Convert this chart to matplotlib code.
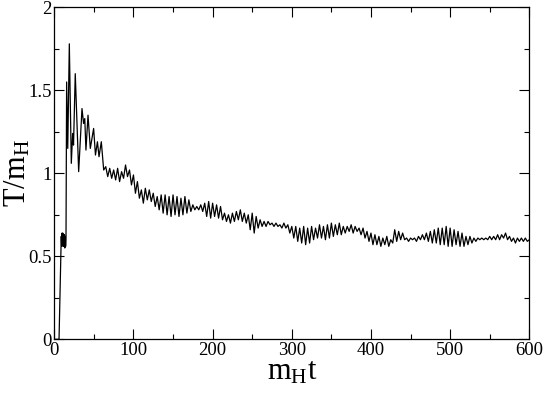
import numpy as np
import matplotlib
matplotlib.use("Agg")
import matplotlib.pyplot as plt
from matplotlib.ticker import MultipleLocator

plt.rcParams['font.family'] = ['Liberation Serif', 'DejaVu Serif']
plt.rcParams['mathtext.fontset'] = 'custom'
plt.rcParams['mathtext.rm'] = 'Liberation Serif'
plt.rcParams['mathtext.it'] = 'Liberation Serif'

# early, irregular part of the curve (time, T/m_H)
t_early = [0, 6.0, 8.8, 9.3, 9.8, 10.3, 10.8, 11.3, 11.8, 12.3, 12.8, 13.3, 13.8,
           14.3, 14.8, 15.6, 17.0, 19.0, 21.5, 23.2, 24.3, 26.5, 30.8, 35.0, 37.0,
           38.5, 40.0, 42.6, 45.5, 49.7, 52.0, 54.5, 56.5, 59.4, 62.4]
v_early = [0.0, 0.0, 0.62, 0.56, 0.64, 0.57, 0.64, 0.56, 0.63, 0.56, 0.63, 0.55, 0.62,
           0.56, 0.60, 1.55, 1.15, 1.78, 1.06, 1.24, 1.17, 1.60, 1.01, 1.39, 1.30,
           1.33, 1.14, 1.35, 1.15, 1.27, 1.11, 1.19, 1.10, 1.19, 1.02]

# later part: samples every 2.5 time units starting at t = 65
t_late_start = 65.0
t_late_step = 2.5
v_late = [
    1.04, 0.98, 1.03, 0.97, 1.02, 0.96, 1.03, 0.95, 1.01, 0.97,
    1.05, 0.98, 1.02, 0.93, 0.99, 0.88, 0.95, 0.85, 0.90, 0.82,
    0.91, 0.84, 0.90, 0.83, 0.88, 0.80, 0.86, 0.78, 0.87, 0.76,
    0.87, 0.75, 0.86, 0.74, 0.87, 0.75, 0.86, 0.74, 0.85, 0.75,
    0.86, 0.76, 0.84, 0.77, 0.81, 0.78, 0.80, 0.78, 0.81, 0.77,
    0.82, 0.74, 0.83, 0.73, 0.82, 0.74, 0.81, 0.73, 0.80, 0.72,
    0.76, 0.71, 0.75, 0.70, 0.76, 0.71, 0.77, 0.72, 0.78, 0.71,
    0.76, 0.70, 0.75, 0.66, 0.76, 0.64, 0.74, 0.67, 0.72, 0.68,
    0.71, 0.68, 0.71, 0.69, 0.70, 0.68, 0.70, 0.68, 0.69, 0.67,
    0.70, 0.67, 0.69, 0.64, 0.68, 0.61, 0.68, 0.59, 0.67, 0.58,
    0.68, 0.57, 0.67, 0.58, 0.68, 0.60, 0.67, 0.61, 0.69, 0.61,
    0.68, 0.60, 0.69, 0.61, 0.70, 0.62, 0.69, 0.63, 0.70, 0.63,
    0.68, 0.64, 0.68, 0.65, 0.69, 0.64, 0.68, 0.65, 0.67, 0.63,
    0.67, 0.61, 0.65, 0.59, 0.64, 0.57, 0.63, 0.57, 0.62, 0.56,
    0.61, 0.57, 0.62, 0.56, 0.60, 0.58, 0.66, 0.59, 0.65, 0.60,
    0.64, 0.60, 0.61, 0.59, 0.61, 0.60, 0.61, 0.59, 0.62, 0.60,
    0.63, 0.60, 0.64, 0.59, 0.65, 0.58, 0.66, 0.58, 0.67, 0.57,
    0.67, 0.57, 0.68, 0.56, 0.67, 0.56, 0.66, 0.57, 0.65, 0.56,
    0.64, 0.56, 0.62, 0.57, 0.62, 0.58, 0.61, 0.59, 0.61, 0.60,
    0.61, 0.60, 0.61, 0.60, 0.62, 0.60, 0.62, 0.60, 0.63, 0.60,
    0.63, 0.61, 0.64, 0.60, 0.62, 0.59, 0.61, 0.58, 0.61, 0.59,
    0.61, 0.59, 0.61, 0.59, 0.60,
]

t_late = t_late_start + t_late_step * np.arange(len(v_late))
t = np.concatenate([t_early, t_late])
v = np.concatenate([v_early, v_late])

fig = plt.figure(figsize=(5.45, 3.94), dpi=100)
ax = fig.add_axes([0.0996, 0.1388, 0.8716, 0.8427])
ax.plot(t, v, color='black', lw=0.9)

ax.set_xlim(0, 600)
ax.set_ylim(0, 2)
ax.xaxis.set_major_locator(MultipleLocator(100))
ax.xaxis.set_minor_locator(MultipleLocator(50))
ax.yaxis.set_major_locator(MultipleLocator(0.5))
ax.yaxis.set_minor_locator(MultipleLocator(0.25))
ax.set_yticks([0, 0.5, 1, 1.5, 2])
ax.set_yticklabels(['0', '0.5', '1', '1.5', '2'])
ax.tick_params(which='both', direction='in', top=True, right=True,
               labelsize=13.5, width=0.8, pad=2)
ax.tick_params(which='major', length=7)
ax.tick_params(which='minor', length=3.5)
for s in ax.spines.values():
    s.set_linewidth(0.9)

ax.set_xlabel(r'$\mathrm{m_H t}$', fontsize=22, labelpad=-1)
ax.set_ylabel(r'$\mathrm{T/m_H}$', fontsize=22)
ax.yaxis.set_label_coords(-0.045, 0.5)

fig.savefig('out.png', dpi=100)
